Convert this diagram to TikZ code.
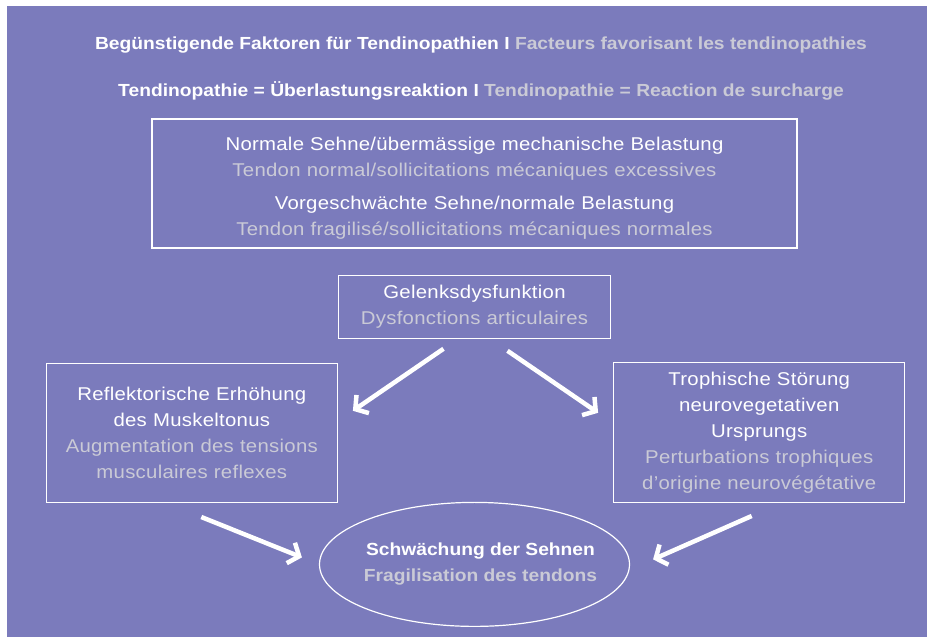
\documentclass[tikz,border=0pt]{standalone}
\usepackage{fontspec}
\setmainfont{Liberation Sans}[FakeStretch=1.1, LetterSpace=1.5]
\newfontfamily\headfont{Liberation Sans}[FakeStretch=1.1]
\definecolor{lilac}{HTML}{7B7BBC}
\definecolor{greytxt}{HTML}{CACAD6}
\usetikzlibrary{positioning, shapes.geometric, arrows.meta}

\tikzset{
  box/.style={draw=white, line width=1.2pt, align=center, inner xsep=0pt, text=white, font=\fontsize{18.5}{26}\selectfont},
  headtext/.style={text=white, align=center, font=\headfont\bfseries\fontsize{17.5}{26}\selectfont},
  bigarrow/.style={-{Straight Barb[length=9pt,width=22pt]}, line width=4.5pt, white},
}
\newcommand{\fr}[1]{\textcolor{greytxt}{#1}}

\begin{document}
\begin{tikzpicture}[x=1pt, y=1pt]
		\useasboundingbox (0,0) rectangle (927,637);
		\fill[lilac] (7,0) rectangle (927,631);
		
		\node[headtext] (head1) at (481,592) {Begünstigende Faktoren für Tendinopathien I \fr{Facteurs favorisant les tendinopathies}};
		\node[headtext] (head2) at (481,546) {Tendinopathie = Überlastungsreaktion I \fr{Tendinopathie = Reaction de surcharge}};
		
		\node[box, text width=645pt, minimum height=129pt] (load) at (474.5,453.5) {\rule{0pt}{23pt}Normale Sehne/übermässige mechanische Belastung\\ \fr{Tendon normal/sollicitations mécaniques excessives}\\[7pt] Vorgeschwächte Sehne/normale Belastung\\ \fr{Tendon fragilisé/sollicitations mécaniques normales}};
		\node[box, text width=272pt, minimum height=63pt, below=26pt of load] (joint) {Gelenksdysfunktion\\ \fr{Dysfonctions articulaires}};
		\node[box, text width=291pt, minimum height=139pt, below left=24pt and 0pt of joint] (tonus) {Reflektorische Erhöhung\\ des Muskeltonus\\ \fr{Augmentation des tensions}\\ \fr{musculaires reflexes}};
		\node[box, text width=291pt, minimum height=140pt, below right=23pt and 2pt of joint] (troph) {Trophische Störung\\ neurovegetativen\\ Ursprungs\\ \fr{Perturbations trophiques}\\ \fr{d’origine neurovégétative}};
		\node[ellipse, draw=white, line width=1.2pt, minimum width=310pt, minimum height=124pt, inner sep=0pt, below=163pt of joint] (weak) {};
		\node[headtext, xshift=6pt] (weakc) at (weak) {Schwächung der Sehnen\\ \fr{Fragilisation des tendons}};
		
		\draw[bigarrow] ([xshift=-31pt, yshift=-10pt]joint.south) -- ([xshift=15pt, yshift=-48pt]tonus.north east);
		\draw[bigarrow] ([xshift=33pt, yshift=-12pt]joint.south) -- ([xshift=-15pt, yshift=-51pt]troph.north west);
		\draw[bigarrow] ([xshift=9.5pt, yshift=-14pt]tonus.south) -- ([xshift=-17pt, yshift=7pt]weak.west);
		\draw[bigarrow] ([xshift=-7.5pt, yshift=-13pt]troph.south) -- ([xshift=23pt, yshift=5pt]weak.east);
	\end{tikzpicture}
\end{document}
